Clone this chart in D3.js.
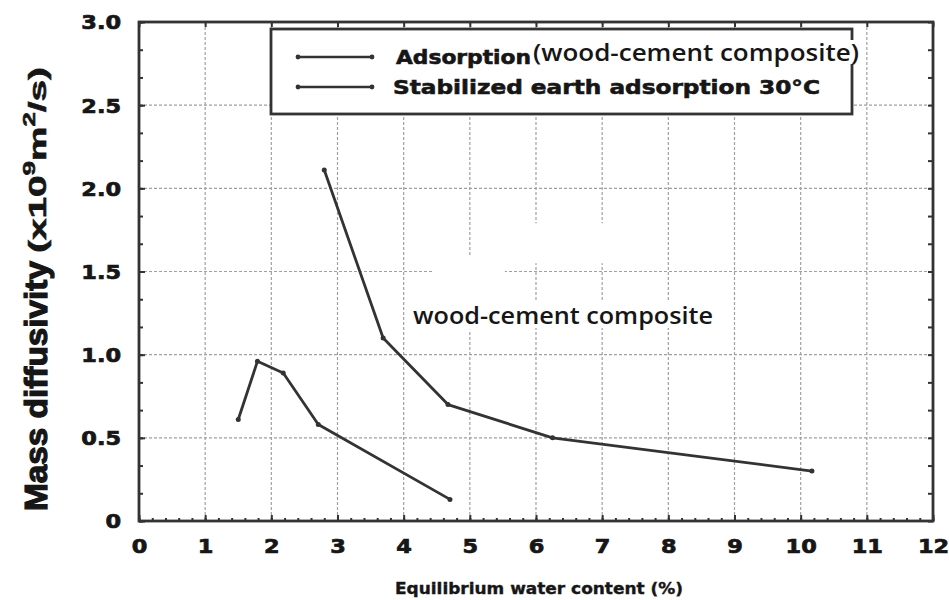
<!DOCTYPE html>
<html><head><meta charset="utf-8">
<script src="https://cdn.jsdelivr.net/npm/d3@7"></script>
<style>body{margin:0;background:#fff}</style>
</head><body>
<svg id="chart" width="949" height="600"></svg>
<script>
// ---- data ----
const woodX = [2.80, 3.69, 4.67, 6.25, 10.17];
const woodY = [2.11, 1.10, 0.70, 0.50, 0.30];
const earthX = [1.50, 1.79, 2.18, 2.71, 4.70];
const earthY = [0.61, 0.96, 0.89, 0.58, 0.13];
const xTicks = [0,1,2,3,4,5,6,7,8,9,10,11,12];
const yTicks = [0,0.5,1.0,1.5,2.0,2.5,3.0];
const yTickLabels = ["0","0.5","1.0","1.5","2.0","2.5","3.0"];
const seriesNames = ["Adsorption", "Stabilized earth adsorption 30°C"];
const legendNote = "(wood-cement composite)";
const annotationText = "wood-cement composite";
const xTitle = "Equilibrium water content (%)";
const yTitleMain = "Mass diffusivity";

// ---- layout ----
const svg = d3.select("#chart");
const L = 139, R = 933, T = 22, B = 521;
const x = d3.scaleLinear().domain([0,12]).range([L,R]);
const y = d3.scaleLinear().domain([0,3]).range([B,T]);
const ink = "#333";
const txt = "#161616";
const boldFont = "'DejaVu Sans', sans-serif";

function fit(sel, w){
  sel.attr("textLength", w).attr("lengthAdjust","spacingAndGlyphs");
}
function heavy(sel, sw){
  sel.attr("stroke", txt).attr("stroke-width", sw).attr("paint-order","stroke");
}

// grid
const grid = svg.append("g");
grid.selectAll(".vg").data(xTicks.filter(d=>d>0&&d<12)).join("line")
  .attr("x1",d=>x(d)).attr("x2",d=>x(d)).attr("y1",T).attr("y2",B)
  .attr("stroke","#a0a0a0").attr("stroke-width",1.2).attr("stroke-dasharray","3,2");
grid.selectAll(".hg").data(yTicks.filter(d=>d>0&&d<3)).join("line")
  .attr("x1",L).attr("x2",R).attr("y1",d=>y(d)).attr("y2",d=>y(d))
  .attr("stroke","#a0a0a0").attr("stroke-width",1.2).attr("stroke-dasharray","3,2");

// erased patches of the original figure
const patches = [
  {x0:4.43, x1:5.53, y0:1.15, y1:1.59},
  {x0:5.53, x1:7.30, y0:1.55, y1:1.79}
];
svg.append("g").selectAll("rect").data(patches).join("rect")
  .attr("x",d=>x(d.x0)).attr("y",d=>y(d.y1))
  .attr("width",d=>x(d.x1)-x(d.x0)).attr("height",d=>y(d.y0)-y(d.y1))
  .attr("fill","#fff");

// annotation
const ann = svg.append("text").attr("x",413).attr("y",324)
  .attr("font-family","'Open Sans', sans-serif").attr("font-weight",600)
  .attr("font-size",24).attr("fill",txt).text(annotationText);
fit(ann, 300);
const bb = ann.node().getBBox();
svg.insert("rect", "text").attr("x",bb.x).attr("y",bb.y+3).attr("width",bb.width).attr("height",bb.height-6).attr("fill","#fff");

// series
const line = d3.line().x(d=>x(d[0])).y(d=>y(d[1]));
const woodPts = woodX.map((v,i)=>[v,woodY[i]]);
const earthPts = earthX.map((v,i)=>[v,earthY[i]]);
[woodPts, earthPts].forEach(pts=>{
  svg.append("path").attr("d",line(pts)).attr("fill","none")
    .attr("stroke",ink).attr("stroke-width",2.8).attr("stroke-linejoin","round");
  svg.append("g").selectAll("circle").data(pts).join("circle")
    .attr("cx",d=>x(d[0])).attr("cy",d=>y(d[1])).attr("r",2.5).attr("fill",ink);
});

// axes (inward ticks)
const gx = svg.append("g").attr("transform",`translate(0,${B})`)
  .call(d3.axisBottom(x).tickValues(xTicks).tickSizeInner(-6).tickSizeOuter(0).tickPadding(19).tickFormat(d3.format("d")));
const gxm = svg.append("g").attr("transform",`translate(0,${B})`)
  .call(d3.axisBottom(x).tickValues(d3.range(0,12.01,0.2)).tickSize(-3).tickFormat(""));
const gxt = svg.append("g").attr("transform",`translate(0,${T})`)
  .call(d3.axisTop(x).tickValues(xTicks).tickSize(-5).tickFormat(""));
const yMinor = d3.range(0,19).map(i=>i*0.5/3);
const gy = svg.append("g").attr("transform",`translate(${L},0)`)
  .call(d3.axisLeft(y).tickValues(yTicks).tickSizeInner(-6).tickSizeOuter(0).tickPadding(18).tickFormat((d,i)=>yTickLabels[i]));
const gym = svg.append("g").attr("transform",`translate(${L},0)`)
  .call(d3.axisLeft(y).tickValues(yMinor).tickSize(-4).tickFormat(""));
const gyr = svg.append("g").attr("transform",`translate(${R},0)`)
  .call(d3.axisRight(y).tickValues(yMinor).tickSize(-5).tickFormat(""));
[gx,gxm,gxt,gy,gym,gyr].forEach(g=>{
  g.select(".domain").remove();
  g.selectAll(".tick line").attr("stroke",ink).attr("stroke-width",2);
});
[gx,gy].forEach(g=>{
  g.selectAll(".tick text").attr("font-family",boldFont).attr("font-weight","bold")
    .attr("font-size",19).attr("fill",txt)
    .each(function(){ const w=this.getComputedTextLength(); fit(d3.select(this), w*1.18); });
  heavy(g.selectAll(".tick text"), 0.7);
});
gy.selectAll(".tick text").attr("dy","0.36em");

// frame
svg.append("rect").attr("x",L).attr("y",T).attr("width",R-L).attr("height",B-T)
  .attr("fill","none").attr("stroke",ink).attr("stroke-width",2.8);

// legend
const lg = svg.append("g");
lg.append("rect").attr("x",271).attr("y",29).attr("width",581).attr("height",85)
  .attr("fill","#fff").attr("stroke",ink).attr("stroke-width",2.8);
const legRows = [{y:57, name:seriesNames[0], w:135, tx:396}, {y:87, name:seriesNames[1], w:427, tx:393}];
legRows.forEach(r=>{
  lg.append("line").attr("x1",298).attr("x2",372).attr("y1",r.y).attr("y2",r.y)
    .attr("stroke",ink).attr("stroke-width",2.4);
  lg.selectAll(null).data([298,372]).join("circle").attr("cx",d=>d).attr("cy",r.y).attr("r",2.4).attr("fill",ink);
  const t = lg.append("text").attr("x",r.tx).attr("y",r.y+7).attr("font-family",boldFont)
    .attr("font-weight","bold").attr("font-size",20).attr("fill",txt).text(r.name);
  fit(t, r.w);
  heavy(t, 0.6);
});
const note = lg.append("text").attr("x",533).attr("y",61)
  .attr("font-family","'Open Sans', sans-serif").attr("font-weight",600)
  .attr("font-size",23).attr("fill",txt).text(legendNote);
fit(note, 326);
const nb = note.node().getBBox();
lg.insert("rect","text:last-child").attr("x",nb.x+nb.width-12).attr("y",nb.y+4).attr("width",14).attr("height",nb.height-8).attr("fill","#fff");
note.raise();

// axis titles
const xt = svg.append("text").attr("x",539).attr("y",594).attr("text-anchor","middle")
  .attr("font-family",boldFont).attr("font-weight","bold").attr("font-size",16.5)
  .attr("fill",txt).text(xTitle);
fit(xt, 288);
heavy(xt, 0.4);

const yt1 = svg.append("text").attr("transform","translate(47,511) rotate(-90)")
  .attr("font-family","'Liberation Sans', Arial, sans-serif").attr("font-weight","bold")
  .attr("font-size",32).attr("fill",txt).text(yTitleMain);
fit(yt1, 250);
heavy(yt1, 1.2);
const yt2 = svg.append("text").attr("transform","translate(46,253) rotate(-90)")
  .attr("font-family","'Liberation Sans', Arial, sans-serif").attr("font-weight","bold")
  .attr("font-size",24).attr("fill",txt);
yt2.append("tspan").text("(x10");
yt2.append("tspan").attr("font-size",16).attr("dy",-11).text("9");
yt2.append("tspan").attr("dy",11).text("m");
yt2.append("tspan").attr("font-size",16).attr("dy",-11).text("2");
yt2.append("tspan").attr("dy",11).text("/s)");
fit(yt2, 186);
heavy(yt2, 0.6);
</script>
</body></html>
